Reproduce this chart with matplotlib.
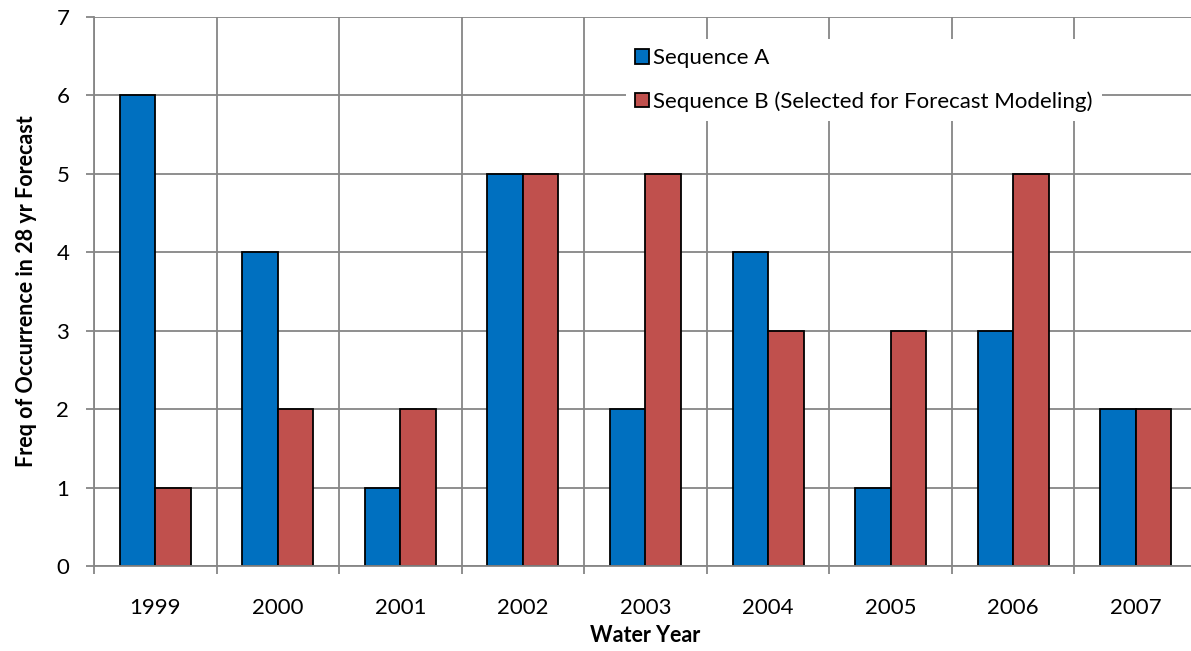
import matplotlib
matplotlib.use("Agg")
import matplotlib.pyplot as plt
import numpy as np
from matplotlib.ticker import FixedLocator, NullFormatter

years = ["1999", "2000", "2001", "2002", "2003", "2004", "2005", "2006", "2007"]
seq_a = [6, 4, 1, 5, 2, 4, 1, 3, 2]
seq_b = [1, 2, 2, 5, 5, 3, 3, 5, 2]
label_a = "Sequence A"
label_b = "Sequence B (Selected for Forecast Modeling)"

plt.rcParams['font.family'] = ['Lato', 'DejaVu Sans']

fig = plt.figure(figsize=(11.91, 6.51), dpi=100)
ax = fig.add_axes([94/1191, 1-566/651, (1197-94)/1191, (566-17)/651])

x = np.arange(len(years))
w = 0.29
grid_c = '#868686'
ax.bar(x - w/2, seq_a, w, color='#0070C0', edgecolor='black', linewidth=1.3, label=label_a, zorder=3)
ax.bar(x + w/2, seq_b, w, color='#C0504D', edgecolor='black', linewidth=1.3, label=label_b, zorder=3)

ax.set_xlim(-0.5, len(years) - 0.5)
ax.set_ylim(0, 7)
ax.set_yticks(range(0, 8))
ax.set_xticks(x)
ax.set_xticklabels(years)
ax.xaxis.set_minor_locator(FixedLocator(np.arange(-0.5, len(years), 1.0)))
ax.xaxis.set_minor_formatter(NullFormatter())

for s in ['top', 'right']:
    ax.spines[s].set_visible(False)
for s in ['left', 'bottom']:
    ax.spines[s].set_color(grid_c)
    ax.spines[s].set_linewidth(1.3)
    ax.spines[s].set_zorder(4)

ax.tick_params(axis='x', which='major', length=0, labelsize=16, pad=23)
ax.tick_params(axis='x', which='minor', length=8*0.72, width=1.3, color=grid_c, direction='out')
ax.tick_params(axis='y', length=8*0.72, width=1.3, color=grid_c, labelsize=16, pad=12)

ax.grid(axis='y', color=grid_c, linewidth=1.3, zorder=0)
ax.grid(axis='x', which='minor', color=grid_c, linewidth=1.3, zorder=0)
ax.set_axisbelow(True)

ax.set_xlabel("Water Year", fontsize=15.5, fontweight='bold', labelpad=5)
ax.set_ylabel("Freq of Occurrence in 28 yr Forecast", fontsize=15.5, fontweight='bold', labelpad=14)

leg = ax.legend(loc='upper left', bbox_to_anchor=(0.472, 0.98), fontsize=16,
                frameon=True, facecolor='white', edgecolor='none', framealpha=1,
                handlelength=0.64, handleheight=0.64, handletextpad=0.2,
                labelspacing=1.05, borderpad=0.4, fancybox=False)
leg.set_zorder(5)

fig.savefig("out.png", dpi=100)
